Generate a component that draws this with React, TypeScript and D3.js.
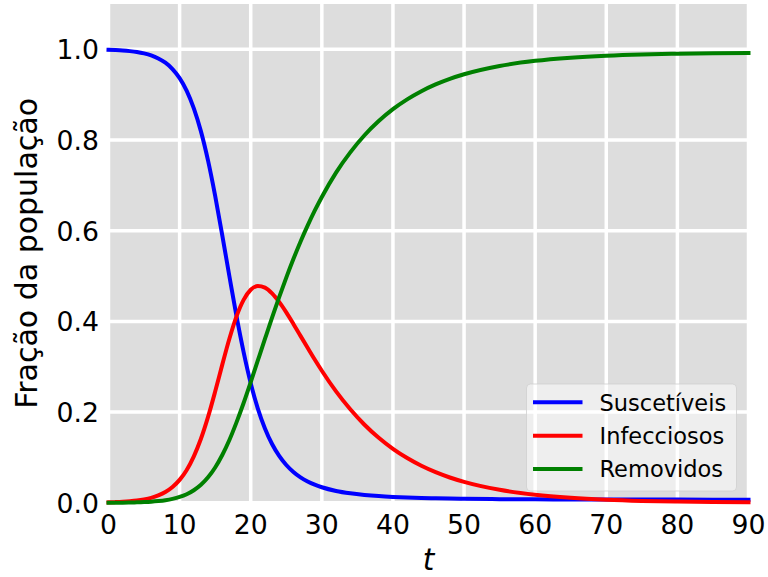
import React from "react";
import * as d3 from "d3";

// Tempo (dias) e frações do modelo SIR
const tempo = [
  0, 1, 2, 3, 4, 5, 6, 7, 8, 9, 10, 11, 12, 13, 14, 15, 16, 17, 18, 19, 20,
  21, 22, 23, 24, 25, 26, 27, 28, 29, 30, 32, 34, 36, 38, 40, 42, 44, 46, 48,
  50, 55, 60, 65, 70, 75, 80, 85, 90,
];
const suscetiveis = [
  0.999, 0.9984, 0.9975, 0.9961, 0.9941, 0.991, 0.9866, 0.9799, 0.9706,
  0.9566, 0.9366, 0.9086, 0.8698, 0.8191, 0.7545, 0.6768, 0.5899, 0.4996,
  0.4115, 0.3324, 0.2638, 0.2079, 0.164, 0.1296, 0.1034, 0.0834, 0.068,
  0.0562, 0.0471, 0.0399, 0.0343, 0.0262, 0.021, 0.0174, 0.0148, 0.013,
  0.0117, 0.0107, 0.0099, 0.0093, 0.0089, 0.0081, 0.0076, 0.0074, 0.0072,
  0.0071, 0.0071, 0.007, 0.007,
];
const infecciosos = [
  0.001, 0.0015, 0.0022, 0.0033, 0.0049, 0.0074, 0.0109, 0.0162, 0.0237,
  0.0348, 0.0505, 0.0724, 0.1025, 0.1412, 0.1894, 0.2453, 0.3047, 0.3618,
  0.4111, 0.4475, 0.4699, 0.4782, 0.4746, 0.462, 0.443, 0.4199, 0.3945,
  0.3681, 0.3419, 0.316, 0.2912, 0.2456, 0.2062, 0.1721, 0.1433, 0.1189,
  0.0986, 0.0816, 0.0675, 0.0558, 0.0461, 0.0286, 0.0176, 0.0109, 0.0067,
  0.0041, 0.0026, 0.0016, 0.001,
];
const removidos = [
  0, 0.0001, 0.0003, 0.0006, 0.001, 0.0016, 0.0025, 0.0039, 0.0058, 0.0087,
  0.0129, 0.019, 0.0277, 0.0397, 0.0562, 0.0779, 0.1054, 0.1386, 0.1774,
  0.2201, 0.2663, 0.3139, 0.3614, 0.4084, 0.4536, 0.4967, 0.5375, 0.5757,
  0.6111, 0.6441, 0.6745, 0.7282, 0.7728, 0.8106, 0.8419, 0.8681, 0.8897,
  0.9077, 0.9226, 0.9349, 0.945, 0.9633, 0.9748, 0.9817, 0.9861, 0.9888,
  0.9903, 0.9914, 0.992,
];

const seriesNames = ["Suscetíveis", "Infecciosos", "Removidos"];
const seriesColors = ["#0000ff", "#ff0000", "#008000"];
const xTicks = [0, 10, 20, 30, 40, 50, 60, 70, 80, 90];
const yTicks = [0, 0.2, 0.4, 0.6, 0.8, 1.0];

const W = 768;
const H = 577;
const FONT = "'DejaVu Sans', sans-serif";

export default function App() {
  const x = d3.scaleLinear().domain([0, 90]).range([108.5, 748.5]);
  const y = d3.scaleLinear().domain([0, 1.1]).range([502.8, 4]);
  const fmt = d3.format(".1f");

  const series = [suscetiveis, infecciosos, removidos];
  const line = d3
    .line<[number, number]>()
    .x((d) => x(d[0]))
    .y((d) => y(d[1]))
    .curve(d3.curveMonotoneX);

  const [x0, x1] = x.range();
  const [yb, yt] = y.range();

  const legendX = 526.5;
  const legendY = 384;
  const rowH = 33.4;

  return (
    <svg
      width={W}
      height={H}
      style={{ position: "absolute", left: 0, top: 0, background: "#ffffff" }}
      fontFamily={FONT}
    >
      <rect x={x0} y={yt} width={x1 - x0} height={yb - yt} fill="#dddddd" />
      {xTicks.map((t) => (
        <line
          key={"gx" + t}
          x1={x(t)}
          x2={x(t)}
          y1={yt}
          y2={yb}
          stroke="#ffffff"
          strokeWidth={3.5}
        />
      ))}
      {yTicks.map((v) => (
        <line
          key={"gy" + v}
          x1={x0}
          x2={x1}
          y1={y(v)}
          y2={y(v)}
          stroke="#ffffff"
          strokeWidth={3.5}
        />
      ))}

      {series.map((vals, i) => (
        <path
          key={seriesNames[i]}
          d={line(tempo.map((t, k) => [t, vals[k]] as [number, number])) || ""}
          fill="none"
          stroke={seriesColors[i]}
          strokeWidth={4}
          strokeLinecap="square"
          strokeLinejoin="round"
        />
      ))}

      {xTicks.map((t) => (
        <text
          key={"tx" + t}
          x={x(t)}
          y={534}
          textAnchor="middle"
          fontSize={26.7}
          fill="#000"
        >
          {t}
        </text>
      ))}
      {yTicks.map((v) => (
        <text
          key={"ty" + v}
          x={99}
          y={y(v) + 9.8}
          textAnchor="end"
          fontSize={26.7}
          fill="#000"
        >
          {fmt(v)}
        </text>
      ))}

      <text
        x={(x0 + x1) / 2}
        y={570}
        textAnchor="middle"
        fontSize={29.5}
        fontStyle="italic"
        fill="#000"
      >
        t
      </text>
      <text
        transform={`translate(37, ${(yb + yt) / 2}) rotate(-90)`}
        textAnchor="middle"
        fontSize={30}
        fill="#000"
      >
        Fração da população
      </text>

      <g>
        <rect
          x={legendX}
          y={legendY}
          width={210}
          height={107}
          rx={4}
          fill="#ffffff"
          fillOpacity={0.5}
          stroke="#d0d0d0"
          strokeOpacity={0.8}
          strokeWidth={1}
        />
        {seriesNames.map((name, i) => {
          const cy = legendY + 18.3 + i * rowH;
          return (
            <g key={"lg" + name}>
              <line
                x1={533}
                x2={582.5}
                y1={cy}
                y2={cy}
                stroke={seriesColors[i]}
                strokeWidth={4}
              />
              <text x={599.5} y={cy + 8.3} fontSize={22.5} fill="#000">
                {name}
              </text>
            </g>
          );
        })}
      </g>
    </svg>
  );
}
